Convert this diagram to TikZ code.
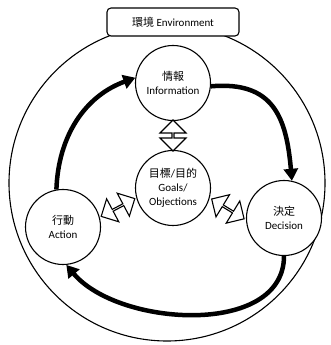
\documentclass[tikz,border=0pt]{standalone}
\usepackage{fontspec}
\setmainfont{Carlito}
\newfontfamily\cjk{Noto Sans CJK TC}
\usetikzlibrary{arrows.meta,shapes.arrows}

\tikzset{
  stage/.style={circle, draw, line width=1.1pt, fill=white, minimum size=75pt,
    inner sep=0pt, align=center, font=\fontsize{11}{14}\selectfont},
  flow/.style={line width=4.5pt, -{Triangle[length=12pt,width=14pt]}},
  link/.style={double arrow, draw, line width=1.1pt, fill=white, inner sep=0pt,
    minimum width=26pt, double arrow head extend=6.5pt, sloped},
}

\begin{document}
\begin{tikzpicture}[x=1pt,y=1pt]
  \useasboundingbox (0,0) rectangle (331,345);
  % environment
  \draw[line width=1.1pt] (167,162) circle (158);
  \node[draw, fill=white, rounded corners=4pt, line width=1.1pt, minimum width=132pt,
    minimum height=28pt, font=\fontsize{11}{13}\selectfont] (env) at (173,323) {{\cjk 環境} Environment};

  \node[stage] (info) at (173,262) {{\cjk 情報}\\Information};
  \node[stage] (goals) at (173,157) {{\cjk 目標}/{\cjk 目的}\\Goals/\\Objections};
  \node[stage] (dec) at (284,127) {{\cjk 決定}\\Decision};
  \node[stage] (act) at (63,118) {{\cjk 行動}\\Action};

  % cycle
  \draw[flow] (act.100) to[out=88,in=200] (info.172);
  \draw[flow] (info.355) to[out=5,in=95,looseness=1.3] (dec.78);
  \draw[flow] (dec.270) to[out=270,in=310,looseness=0.95] (act.275);

  % links to goals
  \path (info.south) -- node[link, minimum height=31pt] {} (goals.north);
  \path (act.15) -- node[link, minimum height=38pt] {} (goals.195);
  \path (goals.345) -- node[link, minimum height=38pt] {} (dec.183);
\end{tikzpicture}
\end{document}
